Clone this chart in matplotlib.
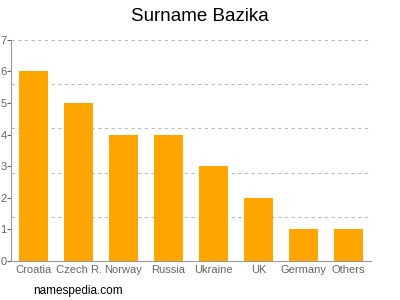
import matplotlib
matplotlib.use("Agg")
import matplotlib.pyplot as plt

plt.rcParams["font.family"] = ["Liberation Sans", "DejaVu Sans"]

categories = ["Croatia", "Czech R.", "Norway", "Russia", "Ukraine", "UK", "Germany", "Others"]
values = [6, 5, 4, 4, 3, 2, 1, 1]
yticks = [0, 1, 2, 3, 4, 5, 6, 7]
gridlines = [1.4, 2.8, 4.2, 5.6, 7.0]

fig = plt.figure(figsize=(4, 3), dpi=100)
ax = fig.add_axes([0.0275, 0.13, 0.9, 0.737])
x = range(len(categories))
ax.bar(x, values, width=0.63, color="#FFA500", zorder=3)
for g in gridlines:
    ax.axhline(g, color="#bbbbbb", linestyle=(0, (3, 3)), linewidth=0.8, zorder=1)
ax.set_xlim(-0.5, len(categories) - 0.5)
ax.set_ylim(0, 7)
ax.set_yticks(yticks)
ax.set_xticks(list(x))
ax.set_xticklabels(categories)
ax.tick_params(axis="x", length=0, labelsize=8, colors="#666666", pad=3)
ax.tick_params(axis="y", length=3, labelsize=8, colors="#666666", pad=0, direction="out")
for s in ["top", "right"]:
    ax.spines[s].set_visible(False)
ax.spines["left"].set_color("#999999")
ax.spines["bottom"].set_color("#999999")
fig.text(0.5, 0.945, "Surname Bazika", ha="center", va="center", fontsize=13.5, color="#000000")
fig.text(0.083, 0.03, "namespedia.com", ha="left", va="center", fontsize=8.5, color="#000000")
fig.savefig("out.png", dpi=100)
